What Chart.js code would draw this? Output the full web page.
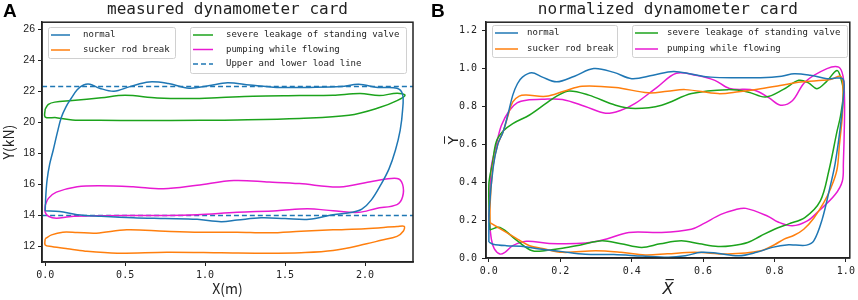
<!DOCTYPE html>
<html>
<head>
<meta charset="utf-8">
<script src="https://cdn.jsdelivr.net/npm/chart.js@4.4.1/dist/chart.umd.min.js"></script>
<style>
  body { margin: 0; background: #fff; }
  #wrap { position: relative; width: 858px; height: 300px; }
  canvas { position: absolute; top: 0; }
  .tag { position: absolute; top: 1px; font: bold 19px "Liberation Sans", sans-serif; line-height: 1; }
</style>
</head>
<body>
<div id="wrap">
  <canvas id="cardA" width="430" height="300" style="left:0"></canvas>
  <canvas id="cardB" width="428" height="300" style="left:430px"></canvas>
  <div class="tag" style="left:3px">A</div>
  <div class="tag" style="left:431px">B</div>
</div>
<script>
// series labels
var labels = ["normal", "sucker rod break", "severe leakage of standing valve", "pumping while flowing"];
var loadLineLabel = "Upper and lower load line";

// A: measured card, [X (m), Y (kN)]
var normalA = [[0,14.3],[0.004,15.3],[0.012,16.3],[0.028,17.3],[0.05,18.2],[0.075,19.3],[0.1,20.3],[0.13,21.0],[0.16,21.5],[0.2,22.1],[0.24,22.4],[0.28,22.45],[0.34,22.2],[0.43,22.0],[0.53,22.3],[0.65,22.6],[0.77,22.5],[0.9,22.2],[1.02,22.35],[1.14,22.55],[1.28,22.4],[1.45,22.25],[1.65,22.25],[1.85,22.3],[1.96,22.45],[2.08,22.25],[2.2,22.2],[2.235,21.8],[2.235,20.8],[2.22,19.5],[2.19,18.2],[2.15,17.0],[2.1,16.0],[2.04,15.0],[1.98,14.4],[1.92,14.2],[1.8,14.05],[1.65,13.75],[1.5,13.8],[1.35,13.85],[1.2,13.7],[1.1,13.6],[0.95,13.75],[0.75,13.8],[0.55,13.85],[0.35,13.95],[0.2,14.05],[0.09,14.25],[0,14.3]];
var rodBreakA = [[0,12.5],[0.04,12.75],[0.11,12.92],[0.2,12.9],[0.32,12.86],[0.51,13.07],[0.75,12.98],[0.97,12.92],[1.2,12.92],[1.4,12.88],[1.6,12.98],[1.8,13.07],[2.0,13.15],[2.2,13.28],[2.245,13.3],[2.24,13.0],[2.2,12.65],[2.1,12.4],[2.01,12.17],[1.8,11.74],[1.6,11.6],[1.39,11.57],[1.1,11.6],[0.76,11.63],[0.45,11.57],[0.25,11.7],[0.14,11.85],[0.04,12.0],[0,12.1],[0,12.5]];
var leakageA = [[0,20.85],[0.02,21.15],[0.06,21.3],[0.17,21.4],[0.35,21.58],[0.5,21.74],[0.7,21.57],[0.91,21.53],[1.1,21.6],[1.3,21.68],[1.59,21.72],[1.8,21.75],[1.97,21.85],[2.09,21.72],[2.2,21.88],[2.25,21.75],[2.2,21.4],[2.09,20.95],[1.9,20.45],[1.59,20.25],[1.2,20.15],[0.97,20.13],[0.6,20.12],[0.34,20.13],[0.17,20.15],[0.07,20.3],[0,20.34],[0,20.85]];
var flowingA = [[0,14.65],[0.02,15.1],[0.07,15.5],[0.2,15.85],[0.34,15.92],[0.55,15.85],[0.74,15.72],[0.95,15.95],[1.18,16.25],[1.4,16.15],[1.59,16.05],[1.84,15.83],[2.05,16.2],[2.2,16.38],[2.235,16.0],[2.235,15.2],[2.2,14.7],[2.07,14.45],[1.96,14.2],[1.8,14.3],[1.64,14.43],[1.45,14.3],[1.2,14.2],[0.95,14.05],[0.76,14.0],[0.5,14.0],[0.34,13.98],[0.15,13.92],[0.07,13.82],[0.02,13.95],[0,14.2],[0,14.65]];
var loadLines = [22.3, 14.0];

// B: normalized card, [X, Y]
var normalB = [[0,0.084],[0.001,0.25],[0.012,0.477],[0.025,0.6],[0.04,0.667],[0.055,0.77],[0.067,0.86],[0.08,0.92],[0.094,0.955],[0.12,0.978],[0.15,0.955],[0.19,0.93],[0.24,0.96],[0.294,1.0],[0.35,0.98],[0.4,0.947],[0.46,0.965],[0.517,0.985],[0.57,0.97],[0.622,0.955],[0.7,0.952],[0.761,0.952],[0.82,0.96],[0.855,0.973],[0.9,0.965],[0.947,0.947],[0.975,0.95],[0.992,0.945],[0.995,0.9],[0.985,0.7],[0.97,0.5],[0.955,0.37],[0.933,0.2],[0.91,0.09],[0.89,0.068],[0.86,0.068],[0.84,0.07],[0.794,0.056],[0.75,0.03],[0.7,0.012],[0.64,0.025],[0.595,0.03],[0.55,0.012],[0.503,0.004],[0.43,0.01],[0.35,0.018],[0.27,0.02],[0.2,0.035],[0.142,0.047],[0.09,0.062],[0.049,0.065],[0.012,0.073],[0,0.084]];
var rodBreakB = [[0.003,0.187],[0.004,0.3],[0.012,0.49],[0.025,0.6],[0.04,0.667],[0.055,0.76],[0.067,0.824],[0.085,0.855],[0.105,0.86],[0.16,0.854],[0.21,0.88],[0.261,0.907],[0.355,0.9],[0.447,0.872],[0.5,0.88],[0.55,0.889],[0.642,0.868],[0.7,0.878],[0.761,0.894],[0.82,0.912],[0.873,0.929],[0.956,0.942],[0.985,0.96],[0.992,0.9],[0.99,0.75],[0.982,0.6],[0.975,0.466],[0.958,0.37],[0.938,0.292],[0.91,0.21],[0.882,0.152],[0.855,0.12],[0.827,0.1],[0.8,0.07],[0.762,0.038],[0.669,0.021],[0.577,0.03],[0.5,0.022],[0.438,0.016],[0.37,0.03],[0.299,0.038],[0.206,0.03],[0.15,0.05],[0.114,0.065],[0.08,0.1],[0.049,0.135],[0.003,0.187]];
var leakageB = [[0.003,0.148],[0,0.388],[0.01,0.5],[0.021,0.615],[0.04,0.67],[0.067,0.71],[0.114,0.755],[0.16,0.816],[0.19,0.855],[0.225,0.882],[0.28,0.86],[0.355,0.807],[0.41,0.79],[0.484,0.807],[0.568,0.868],[0.669,0.889],[0.725,0.877],[0.775,0.85],[0.825,0.89],[0.868,0.938],[0.895,0.925],[0.919,0.894],[0.945,0.93],[0.975,0.99],[0.986,0.948],[0.993,0.877],[0.985,0.75],[0.975,0.667],[0.952,0.458],[0.928,0.3],[0.886,0.215],[0.84,0.18],[0.8,0.152],[0.76,0.115],[0.725,0.082],[0.68,0.065],[0.642,0.061],[0.59,0.075],[0.539,0.091],[0.48,0.075],[0.428,0.056],[0.37,0.075],[0.317,0.091],[0.26,0.07],[0.206,0.051],[0.16,0.04],[0.122,0.038],[0.08,0.09],[0.031,0.161],[0.003,0.148]];
var flowingB = [[0,0.222],[0.003,0.35],[0.007,0.484],[0.02,0.59],[0.035,0.7],[0.058,0.78],[0.08,0.82],[0.105,0.833],[0.15,0.838],[0.206,0.837],[0.27,0.8],[0.327,0.764],[0.37,0.78],[0.41,0.816],[0.47,0.9],[0.525,0.975],[0.58,0.965],[0.633,0.938],[0.674,0.895],[0.744,0.886],[0.785,0.845],[0.817,0.807],[0.85,0.83],[0.886,0.93],[0.947,1.0],[0.98,1.008],[0.992,0.96],[0.996,0.85],[0.996,0.72],[0.993,0.5],[0.99,0.405],[0.97,0.335],[0.924,0.248],[0.892,0.196],[0.85,0.17],[0.81,0.19],[0.78,0.222],[0.72,0.262],[0.69,0.255],[0.65,0.23],[0.6,0.18],[0.567,0.152],[0.484,0.135],[0.392,0.135],[0.33,0.1],[0.271,0.079],[0.169,0.077],[0.105,0.088],[0.067,0.065],[0.045,0.03],[0.031,0.021],[0.015,0.05],[0.007,0.1],[0,0.222]];

var colors = ["#1f77b4", "#ff7f0e", "#1ca31c", "#e81ad2"];
var mono = '"DejaVu Sans Mono", monospace';
var ink = "#222";

function pts(arr) {
    return arr.map(function (p) { return { x: p[0], y: p[1] }; });
}

function curve(label, arr, color, dash) {
    return {
        label: label,
        data: pts(arr),
        showLine: true,
        borderColor: color,
        backgroundColor: color,
        borderWidth: 1.5,
        borderDash: dash || [],
        pointRadius: 0,
        tension: 0.35,
        fill: false
    };
}

// box round the axes + matplotlib style legends inside
var framePlugin = {
    id: "frame",
    afterDraw: function (chart, args, opts) {
        var ctx = chart.ctx, a = chart.chartArea;
        ctx.save();
        ctx.lineWidth = 1.5;
        ctx.strokeStyle = ink;
        ctx.strokeRect(a.left, a.top, a.right - a.left, a.bottom - a.top);
        ctx.font = "9px " + mono;
        ctx.textBaseline = "middle";
        opts.boxes.forEach(function (b) {
            ctx.setLineDash([]);
            ctx.fillStyle = "rgba(255,255,255,0.85)";
            ctx.strokeStyle = "#d0d0d0";
            ctx.lineWidth = 1;
            ctx.beginPath();
            ctx.roundRect(b.x + 0.5, b.y + 0.5, b.w, b.h, 2);
            ctx.fill();
            ctx.stroke();
            b.items.forEach(function (idx, i) {
                var ds = chart.data.datasets[idx];
                var y = b.y + 8 + i * b.step;
                ctx.strokeStyle = ds.borderColor;
                ctx.lineWidth = 1.5;
                ctx.setLineDash(ds.borderDash);
                ctx.beginPath();
                ctx.moveTo(b.x + 3, y);
                ctx.lineTo(b.x + b.line, y);
                ctx.stroke();
                ctx.fillStyle = ink;
                ctx.fillText(ds.label, b.x + b.text, y);
            });
        });
        ctx.restore();
    }
};

function axis(opt) {
    return {
        type: "linear",
        position: opt.pos,
        min: opt.min,
        max: opt.max,
        ticks: {
            stepSize: opt.step,
            includeBounds: false,
            autoSkip: false,
            maxRotation: 0,
            padding: opt.tickPad,
            color: ink,
            font: opt.tickFont,
            callback: function (v) { return v.toFixed(opt.digits); }
        },
        grid: { display: true, drawOnChartArea: false, drawTicks: true, tickLength: 4, color: ink },
        border: { display: true, color: ink, width: 1.5 },
        title: { display: true, text: opt.title, color: ink, font: opt.titleFont, padding: opt.titlePad },
        afterFit: function (s) {
            if (opt.pos === "left") s.width = opt.size; else s.height = opt.size;
        }
    };
}

function card(id, title, datasets, xs, ys, padRight, boxes) {
    return new Chart(id, {
        type: "scatter",
        data: { datasets: datasets },
        options: {
            responsive: false,
            animation: false,
            layout: { padding: { left: 0, right: padRight, top: 0, bottom: 0 } },
            plugins: {
                legend: { display: false },
                tooltip: { enabled: false },
                title: {
                    display: true, text: title, color: ink, fullSize: false,
                    font: { family: mono, size: 16, weight: "normal" },
                    padding: { top: 0, bottom: 3 }
                },
                frame: { boxes: boxes }
            },
            scales: { x: xs, y: ys }
        },
        plugins: [framePlugin]
    });
}

var chartA = card("cardA", "measured dynamometer card", [
    curve(labels[0], normalA, colors[0]),
    curve(labels[1], rodBreakA, colors[1]),
    curve(labels[2], leakageA, colors[2]),
    curve(labels[3], flowingA, colors[3]),
    curve(loadLineLabel, [[-0.02, loadLines[0]], [2.3, loadLines[0]]], colors[0], [5, 3]),
    curve("", [[-0.02, loadLines[1]], [2.3, loadLines[1]]], colors[0], [5, 3])
], axis({
    pos: "bottom", min: -0.02, max: 2.3, step: 0.5, digits: 1, tickPad: 3,
    tickFont: { family: mono, size: 10 },
    title: "X(m)", titleFont: { family: '"Noto Sans CJK SC"', size: 14 },
    titlePad: { top: 0, bottom: 3 }, size: 38
}), axis({
    pos: "left", min: 11, max: 26.45, step: 2, digits: 0, tickPad: 3,
    tickFont: { family: '"Liberation Sans"', size: 10.5 },
    title: "Y(kN)", titleFont: { family: '"Noto Sans CJK SC"', size: 14 },
    titlePad: { top: 0, bottom: 0 }, size: 42
}), 17, [
    { x: 48, y: 27, w: 127, h: 31, step: 15, line: 22, text: 35, items: [0, 1] },
    { x: 190, y: 27, w: 216, h: 46, step: 14.5, line: 23, text: 36, items: [2, 3, 4] }
]);

var chartB = card("cardB", "normalized dynamometer card", [
    curve(labels[0], normalB, colors[0]),
    curve(labels[1], rodBreakB, colors[1]),
    curve(labels[2], leakageB, colors[2]),
    curve(labels[3], flowingB, colors[3])
], axis({
    pos: "bottom", min: -0.008, max: 1.011, step: 0.2, digits: 1, tickPad: 3,
    tickFont: { family: mono, size: 10 },
    title: "X\u0305", titleFont: { family: '"DejaVu Sans"', size: 16, style: "italic" },
    titlePad: { top: 0, bottom: 1 }, size: 42
}), axis({
    pos: "left", min: 0, max: 1.245, step: 0.2, digits: 1, tickPad: 5,
    tickFont: { family: mono, size: 10 },
    title: "Y\u0305", titleFont: { family: '"DejaVu Sans"', size: 14 },
    titlePad: { top: 16, bottom: 0 }, size: 56
}), 5, [
    { x: 62, y: 25, w: 125, h: 32, step: 16, line: 26, text: 35, items: [0, 1] },
    { x: 202, y: 25, w: 215, h: 32, step: 16, line: 26, text: 35, items: [2, 3] }
]);
</script>
</body>
</html>
